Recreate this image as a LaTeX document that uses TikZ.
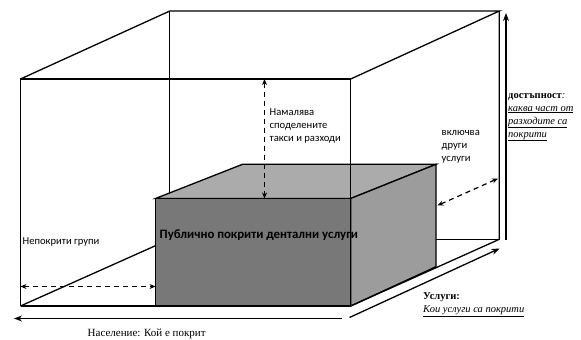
\documentclass[tikz,border=0pt]{standalone}
\usepackage{fontspec}
\setmainfont{Liberation Serif}
\newfontfamily\carlitofont{Carlito}
\usetikzlibrary{arrows.meta}
\begin{document}
\begin{tikzpicture}[x=1pt,y=-1pt,
  edge/.style={line width=1.3pt,black},
  solidarrow/.style={line width=1.3pt,-{Stealth[length=8pt,width=6pt]}},
  dasharrow/.style={line width=1.2pt,dash pattern=on 5pt off 4pt,{Stealth[length=6pt,width=5pt]}-{Stealth[length=6pt,width=5pt]}},
  sanslbl/.style={font=\carlitofont\fontsize{10.6}{12}\selectfont,inner sep=0pt,anchor=base west},
  seriflbl/.style={font=\fontsize{10.5}{12}\selectfont,inner sep=0pt,anchor=base west}]
\useasboundingbox (0,0) rectangle (581,340);
\fill[white] (0,0) rectangle (581,340);
% big box corners
\coordinate (FTL) at (20.5,79);
\coordinate (FTR) at (350.7,79);
\coordinate (FBL) at (20.5,306);
\coordinate (FBR) at (350.7,306);
\coordinate (BTL) at (169.8,11);
\coordinate (BTR) at (499.3,11);
\coordinate (BBL) at (169.8,239.3);
\coordinate (BBR) at (499.3,239.3);
% small box corners
\coordinate (sFTL) at (155.5,198.5);
\coordinate (sFTR) at (350.7,198.5);
\coordinate (sFBL) at (155.5,306);
\coordinate (sFBR) at (350.7,306);
\coordinate (sBTL) at (242.5,164.3);
\coordinate (sBTR) at (436,164.3);
\coordinate (sBBR) at (436,266.7);
% back lines of big box
\draw[edge] (BTL) -- (BBL) -- (BBR);
\draw[edge] (FBL) -- (BBL);
% small box
\filldraw[edge,fill=black!33] (sFTL) -- (sBTL) -- (sBTR) -- (sFTR) -- cycle;
\filldraw[edge,fill=black!39] (sFTR) -- (sBTR) -- (sBBR) -- (sFBR) -- cycle;
\filldraw[edge,fill=black!53] (sFTL) -- (sFTR) -- (sFBR) -- (sFBL) -- cycle;
% front/top lines of big box
\draw[edge] (FBL) -- (FTL) -- (FTR) -- (FBR) -- (FBL);
\draw[edge] (FTL) -- (BTL) -- (BTR) -- (FTR);
\draw[edge] (BTR) -- (BBR) -- (FBR);
% main label
\node[font=\carlitofont\bfseries\fontsize{12.8}{14}\selectfont,inner sep=0pt,anchor=base west] (main) at (159.5,238.5) {Публично покрити дентални услуги};
% dashed arrows
\coordinate (dv1) at (264.5,79);
\coordinate (dv2) at (264.5,198.5);
\draw[dasharrow] (dv1) -- (dv2);
\coordinate (dh1) at (20.5,286.5);
\coordinate (dh2) at (155.5,286.5);
\draw[dasharrow] (dh1) -- (dh2);
\coordinate (dd1) at (437.5,205.5);
\coordinate (dd2) at (498,178.5);
\draw[dasharrow] (dd1) -- (dd2);
% solid axes arrows
\coordinate (a1s) at (342,318.5);
\coordinate (a1e) at (14,318.5);
\draw[solidarrow] (a1s) -- (a1e);
\coordinate (a2s) at (349.5,317.5);
\coordinate (a2e) at (499.5,248.5);
\draw[solidarrow] (a2s) -- (a2e);
\coordinate (a3s) at (506,239.5);
\coordinate (a3e) at (506,13);
\draw[solidarrow] (a3s) -- (a3e);
% labels
\node[sanslbl] (n1) at (269.5,115.5) {Намалява};
\node[sanslbl] (n2) at (269.5,128.5) {споделените};
\node[sanslbl] (n3) at (269.5,141.5) {такси и разходи};
\node[sanslbl] (v1) at (441.5,135) {включва};
\node[sanslbl] (v2) at (441.5,148) {други};
\node[sanslbl] (v3) at (441.5,161) {услуги};
\node[sanslbl] (ng) at (22.5,244) {Непокрити групи};
\node[seriflbl] (d1) at (508,98) {\textbf{достъпност}\textit{:}};
\node[seriflbl] (d2) at (508,111) {\underline{\textit{каква част от}}};
\node[seriflbl] (d3) at (508,124) {\underline{\textit{разходите са}}};
\node[seriflbl] (d4) at (508,137) {\underline{\textit{покрити}}};
\node[seriflbl] (u1) at (423,299) {\textbf{Услуги:}};
\node[seriflbl] (u2) at (423,312.5) {\underline{\textit{Кои услуги са покрити}}};
\node[seriflbl,font=\fontsize{11}{12}\selectfont] (p1) at (87.5,336.5) {Население: \underline{Кой е покрит}};
\end{tikzpicture}
\end{document}
